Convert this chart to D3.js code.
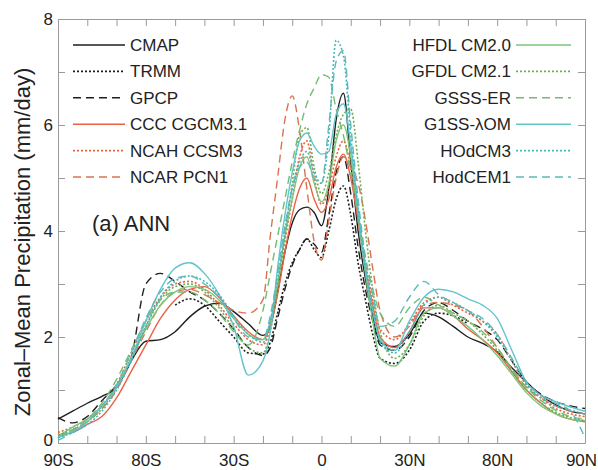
<!DOCTYPE html>
<html>
<head>
<meta charset="utf-8">
<script src="https://cdn.jsdelivr.net/npm/d3@7"></script>
<style>
  body { margin: 0; background: #fff; }
  svg { font-family: "Liberation Sans", Arial, sans-serif; }
  .axis path, .axis line { stroke: #9a9a9a; }
  .axis text { fill: #222; font-size: 17px; }
</style>
</head>
<body>
<svg id="chart" width="598" height="470"></svg>
<script>
// latitudes (negative = south)
var lats = [-90,-85,-80,-75,-70,-65,-60,-55,-50,-45,-40,-35,-30,-25,-20,-17.5,-15,-12.5,-10,-7.5,-5,-2.5,
            0,2.5,5,7.5,10,12.5,15,17.5,20,25,30,35,40,45,50,55,60,65,70,75,80,85,90];

var xTickVals = [-90,-60,-30,0,30,60,90];
var xTickLabels = ['90S','80S','30S','0','30N','80N','90N'];
var yTickVals = [0,2,4,6,8];

var cmap    = [0.45,0.6,0.75,0.88,1.05,1.55,1.92,1.95,2.1,2.38,2.58,2.64,2.48,2.25,2.03,2.2,2.85,3.6,4.15,4.4,4.45,4.35,
               4.1,4.8,6.1,6.6,5.3,4.0,3.1,2.4,1.9,1.82,2.05,2.45,2.38,2.2,2.0,1.88,1.72,1.42,1.15,0.9,0.72,0.6,0.55];
var trmm    = [null,null,null,null,null,null,null,null,2.6,2.72,2.6,2.3,2.0,1.7,1.68,1.9,2.45,3.0,3.4,3.65,3.85,3.65,
               3.5,4.0,4.6,4.85,4.3,3.4,2.7,2.05,1.6,1.5,1.75,2.3,2.45,2.4,2.25,null,null,null,null,null,null,null,null];
var gpcp    = [0.48,0.38,0.5,0.8,1.1,1.6,3.0,3.2,3.05,2.85,2.7,2.45,2.15,1.8,1.65,1.8,2.35,2.9,3.35,3.65,3.85,3.75,
               3.6,4.3,5.1,5.4,4.7,3.7,2.9,2.3,1.85,1.75,2.0,2.5,2.65,2.5,2.3,2.15,1.95,1.55,1.15,0.92,0.78,0.7,0.65];
var cccCgcm = [0.15,0.2,0.35,0.5,0.85,1.35,1.85,2.35,2.7,2.9,2.95,2.75,2.4,2.1,1.95,2.2,2.8,3.6,4.3,4.8,5.0,4.6,
               4.35,4.6,5.2,5.45,5.0,4.2,3.3,2.6,2.0,1.8,2.1,2.55,2.55,2.4,2.15,1.95,1.7,1.35,1.0,0.75,0.55,0.45,0.4];
var ncahCcsm = [0.2,0.3,0.45,0.7,1.1,1.7,2.3,2.75,3.0,3.05,2.9,2.6,2.25,1.95,1.85,2.2,2.9,3.8,4.6,5.4,5.7,5.0,
               4.5,4.8,5.4,5.7,5.2,4.3,3.4,2.7,2.15,1.95,2.25,2.65,2.75,2.6,2.45,2.3,2.05,1.55,1.1,0.85,0.65,0.55,0.5];
var ncarPcm = [0.15,0.25,0.4,0.65,1.0,1.55,2.1,2.6,2.85,2.9,2.8,2.65,2.5,2.45,2.7,3.9,5.0,6.1,6.55,5.9,4.8,3.8,
               3.45,4.2,5.0,5.4,5.2,4.9,4.2,3.3,2.5,2.0,2.2,2.6,2.65,2.6,2.5,2.2,1.8,1.4,1.05,0.85,0.7,0.6,0.55];
var gfdl20  = [0.12,0.3,0.45,0.7,1.05,1.6,2.15,2.6,2.85,2.95,2.9,2.7,2.35,2.05,1.95,2.3,3.0,3.9,4.6,5.2,5.4,4.9,
               4.55,4.9,5.7,6.0,5.4,4.3,3.2,2.3,1.6,1.45,1.85,2.45,2.55,2.4,2.2,1.95,1.65,1.3,0.95,0.7,0.55,0.45,0.42];
var gfdl21  = [0.15,0.25,0.4,0.65,1.05,1.6,2.2,2.7,2.95,3.0,2.85,2.55,2.15,1.8,1.7,2.1,2.9,3.9,4.9,5.8,5.95,5.2,
               4.7,5.1,5.8,6.2,6.3,5.3,4.0,2.9,2.1,1.6,1.85,2.4,2.6,2.45,2.3,2.05,1.75,1.35,1.0,0.75,0.58,0.48,0.42];
var gissEr  = [0.1,0.25,0.45,0.75,1.2,1.75,2.3,2.7,2.85,2.85,2.7,2.45,2.1,1.85,2.5,3.2,3.9,4.6,5.3,5.9,6.4,6.7,
               6.95,6.9,6.3,5.8,5.1,4.3,3.5,2.9,2.45,2.2,2.55,2.75,2.6,2.45,2.3,2.1,1.8,1.4,1.05,0.8,0.62,0.5,0.45];
var gissAom = [0.1,0.22,0.4,0.7,1.05,1.6,2.3,2.9,3.3,3.4,3.2,2.8,2.2,1.28,1.55,2.1,3.3,4.3,5.1,5.7,5.85,5.6,
               5.45,5.5,6.2,6.4,5.6,4.4,3.3,2.5,1.95,1.75,2.3,2.75,2.9,2.85,2.72,2.6,2.35,1.75,1.15,0.9,0.78,0.68,0.6];
var hadCm3  = [0.1,0.2,0.35,0.6,1.0,1.55,2.2,2.75,3.05,3.15,3.05,2.8,2.4,2.05,1.9,2.3,3.1,4.0,4.8,5.3,5.5,5.1,
               4.9,5.8,7.6,7.3,5.8,4.4,3.3,2.5,1.9,1.7,2.1,2.6,2.75,2.65,2.5,2.3,2.0,1.55,1.1,0.85,0.7,0.62,0.55];
var hadGem1 = [0.05,0.2,0.4,0.7,1.1,1.7,2.35,2.85,3.1,3.15,3.0,2.75,2.35,2.0,1.95,2.4,3.2,4.1,4.8,5.2,5.3,5.0,
               4.9,6.0,7.2,7.4,6.0,4.6,3.5,2.8,2.2,2.3,2.75,3.05,2.8,2.65,2.5,2.35,2.05,1.6,1.15,0.9,0.75,0.6,0.1];

var leftNames  = ['CMAP','TRMM','GPCP','CCC CGCM3.1','NCAH CCSM3','NCAR PCN1'];
var rightNames = ['HFDL CM2.0','GFDL CM2.1','GSSS-ER','G1SS-\u03bbOM','HOdCM3','HodCEM1'];

var dotted = '2,2', dashed = '8,5';
var series = [
    {name: 'CMAP',        values: cmap,     color: '#1e1e1e', dash: null},
    {name: 'TRMM',        values: trmm,     color: '#1e1e1e', dash: dotted},
    {name: 'GPCP',        values: gpcp,     color: '#1e1e1e', dash: dashed},
    {name: 'CCC CGCM3.1', values: cccCgcm,  color: '#ea6146', dash: null},
    {name: 'NCAH CCSM3',  values: ncahCcsm, color: '#e3643e', dash: dotted},
    {name: 'NCAR PCN1',   values: ncarPcm,  color: '#d9734f', dash: dashed},
    {name: 'HFDL CM2.0',  values: gfdl20,   color: '#7dc67e', dash: null},
    {name: 'GFDL CM2.1',  values: gfdl21,   color: '#6fae55', dash: dotted},
    {name: 'GSSS-ER',     values: gissEr,   color: '#74bc72', dash: dashed},
    {name: 'G1SS-\u03bbOM', values: gissAom, color: '#62c4cc', dash: null},
    {name: 'HOdCM3',      values: hadCm3,   color: '#45b7c0', dash: dotted},
    {name: 'HodCEM1',     values: hadGem1,  color: '#5fb9b6', dash: dashed}
];

var svg = d3.select('#chart'),
    margin = {top: 19, right: 13, bottom: 27, left: 58},
    width = 598 - margin.left - margin.right,
    height = 470 - margin.top - margin.bottom;

var x = d3.scaleLinear().domain([-90, 90]).range([0, width]),
    y = d3.scaleLinear().domain([0, 8]).range([height, 0]);

var g = svg.append('g').attr('transform', 'translate(' + margin.left + ',' + margin.top + ')');

// ticks every 10 degrees, labels only on some of them
var xTicks = d3.range(-90, 91, 10),
    yTicks = d3.range(0, 9, 1);
var xFmt = function (d) {
    var i = xTickVals.indexOf(d);
    return i < 0 ? '' : xTickLabels[i];
};
var yFmt = function (d) { return yTickVals.indexOf(d) < 0 ? '' : d; };

var xAxis = g.append('g').attr('class', 'axis').attr('transform', 'translate(0,' + height + ')')
    .call(d3.axisBottom(x).tickValues(xTicks).tickFormat(xFmt).tickSizeInner(-7).tickSizeOuter(0).tickPadding(11));
g.append('g').attr('class', 'axis')
    .call(d3.axisTop(x).tickValues(xTicks).tickFormat('').tickSizeInner(-7).tickSizeOuter(0));
var yAxis = g.append('g').attr('class', 'axis')
    .call(d3.axisLeft(y).tickValues(yTicks).tickFormat(yFmt).tickSizeInner(-7).tickSizeOuter(0).tickPadding(5));
g.append('g').attr('class', 'axis').attr('transform', 'translate(' + width + ',0)')
    .call(d3.axisRight(y).tickValues(yTicks).tickFormat('').tickSizeInner(-7).tickSizeOuter(0));

// keep the end labels inside the picture and clear of each other
xAxis.selectAll('.tick text').filter(function (d) { return d === 90; }).attr('dx', '-4');
yAxis.selectAll('.tick text').filter(function (d) { return d === 0; }).attr('dy', '0.15em');

// lines
var line = d3.line()
    .defined(function (d) { return d.v != null; })
    .x(function (d) { return x(d.lat); })
    .y(function (d) { return y(d.v); })
    .curve(d3.curveMonotoneX);

g.append('g').selectAll('path.series')
    .data(series)
    .enter().append('path')
    .attr('class', 'series')
    .attr('fill', 'none')
    .attr('stroke', function (d) { return d.color; })
    .attr('stroke-width', function (d) { return d.dash === dotted ? 1.6 : 1.4; })
    .attr('stroke-dasharray', function (d) { return d.dash; })
    .attr('d', function (d) {
        return line(lats.map(function (lat, i) { return {lat: lat, v: d.values[i]}; }));
    });

// legends
var rowStep = 26.4, row0 = 45;
var legend = svg.append('g');
legend.selectAll('g.left')
    .data(series.slice(0, 6))
    .enter().append('g').attr('class', 'left')
    .each(function (d, i) {
        var r = d3.select(this), yy = row0 + i * rowStep;
        r.append('line').attr('x1', 73).attr('x2', 125).attr('y1', yy).attr('y2', yy)
            .attr('stroke', d.color).attr('stroke-width', 1.6)
            .attr('stroke-dasharray', d.dash);
        r.append('text').attr('x', 130).attr('y', yy + 6).attr('font-size', 17).attr('fill', '#222')
            .text(leftNames[i]);
    });

legend.selectAll('g.right')
    .data(series.slice(6))
    .enter().append('g').attr('class', 'right')
    .each(function (d, i) {
        var r = d3.select(this), yy = row0 + i * rowStep;
        r.append('line').attr('x1', 516).attr('x2', 571).attr('y1', yy).attr('y2', yy)
            .attr('stroke', d.color).attr('stroke-width', 1.6)
            .attr('stroke-dasharray', d.dash);
        r.append('text').attr('x', 511).attr('y', yy + 6).attr('font-size', 17).attr('fill', '#222')
            .attr('text-anchor', 'end').text(rightNames[i]);
    });

// panel label
svg.append('text').attr('x', 92).attr('y', 231).attr('font-size', 22).attr('fill', '#222').text('(a) ANN');

// y axis title
svg.append('text')
    .attr('transform', 'translate(30,242) rotate(-90)')
    .attr('text-anchor', 'middle').attr('font-size', 22).attr('fill', '#222')
    .text('Zonal\u2013Mean Precipitation (mm/day)');
</script>
</body>
</html>
